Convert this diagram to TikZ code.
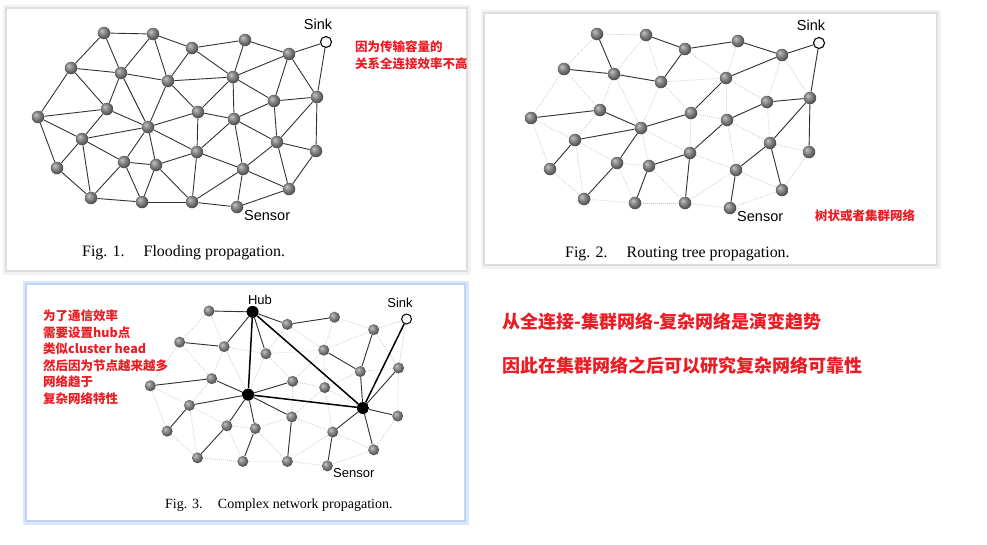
\documentclass[tikz,border=0pt]{standalone}
\usepackage{fontspec}
\setmainfont{Liberation Serif}
\newfontfamily\labelfont{Liberation Sans}
\newfontfamily\cjkfont{Noto Sans CJK SC}
\usepackage{tikz}
\usetikzlibrary{positioning,calc,backgrounds}
\definecolor{noteRed}{RGB}{236,28,36}
\definecolor{panelBlue}{RGB}{190,212,242}
\pgfdeclareradialshading{sensorball}{\pgfpoint{-10bp}{10bp}}{color(0bp)=(black!22); color(9bp)=(black!40); color(18bp)=(black!55); color(25bp)=(black!66); color(50bp)=(black!95)}

% sensor field, pixel positions as in Fig. 1
\newcommand{\sensorPos}{1/104/33, 2/153/34, 3/192/48, 4/245/40, 5/289/54, 6/71/68, 7/121/73, 8/168/81, 9/233/77, 10/274/101, 11/317/97, 12/38/117, 13/107/109, 14/148/127, 15/198/112, 16/234/119, 17/82/139, 18/277/142, 19/316/151, 20/57/168, 21/124/162, 22/156/165, 23/197/152, 24/243/169, 25/289/189, 26/91/198, 27/142/202, 28/192/202, 29/237/207}
% radio links (flooding mesh)
\newcommand{\meshLinks}{1/2, 1/6, 1/7, 2/7, 2/8, 2/3, 3/8, 3/4, 3/9, 4/9, 4/5, 5/sink, 5/9, 5/10, 5/11, sink/11, 6/7, 6/12, 6/13, 7/8, 7/13, 7/14, 8/9, 8/14, 8/15, 9/15, 9/16, 9/10, 10/11, 10/16, 10/18, 11/18, 11/19, 12/13, 12/17, 12/20, 13/17, 13/14, 14/17, 14/15, 14/21, 14/22, 14/23, 15/16, 15/23, 16/18, 16/23, 16/24, 17/20, 17/21, 17/26, 18/19, 18/24, 18/25, 19/25, 20/26, 21/22, 21/26, 21/27, 22/23, 22/27, 22/28, 23/28, 23/24, 24/28, 24/29, 24/25, 25/29, 26/27, 27/28, 28/29}
% routing tree
\newcommand{\treeLinks}{1/7, 2/3, 3/4, 4/5, 5/sink, 3/8, 6/7, 7/8, 9/5, 9/15, 15/14, 12/13, 13/14, 17/14, 17/20, 14/21, 21/26, 22/23, 22/27, 23/16, 23/28, 16/10, 10/11, 11/sink, 11/19, 11/18, 18/24, 18/25, 24/29}
% complex network
\newcommand{\hubLinks}{1/2, 2/3, 3/4, 2/7, 6/7, 2/8, 9/10, 5/10, 10/18, 11/18, 19/18, 25/18, 24/18, 24/29, 12/13, 13/14, 14/15, 14/17, 14/23, 14/21, 14/22, 17/20, 21/26, 22/27, 23/28}
\newcommand{\trunkLinks}{2/14, 2/18, 14/18, 18/sink}

\begin{document}
\begin{tikzpicture}[x=1pt, y=-1pt,
    sensor/.style={circle, inner sep=0pt, minimum size=12.5pt, shading=sensorball},
    sinknode/.style={circle, draw, line width=1.1pt, fill=white, inner sep=0pt, minimum size=11pt},
    hubnode/.style={top color=black, bottom color=black, minimum size=12pt},
    link/.style={line width=0.9pt, black!80},
    faint/.style={line width=0.6pt, gray!50, dash pattern=on 0.8pt off 1.2pt},
    trunk/.style={line width=1.5pt, black},
    tag/.style={font=\labelfont\fontsize{14.5}{16}\selectfont, inner sep=0pt},
    caption/.style={font=\fontsize{15.9}{18}\selectfont, inner sep=0pt, anchor=west},
    note/.style={font=\cjkfont\bfseries\fontsize{12.5}{16.6}\selectfont, text=noteRed, inner sep=0pt, align=left},
    bignote/.style={font=\cjkfont\bfseries\fontsize{18}{22}\selectfont, text=noteRed, inner sep=0pt, anchor=west},
    halo/.style={draw=black!5, line width=7pt},
    panel/.style={fill=white, draw=black!13, line width=1.5pt},
    glow/.style={draw=panelBlue!55, line width=7pt},
    selpanel/.style={fill=white, draw=panelBlue, line width=2pt},
]
\useasboundingbox (0,0) rectangle (987,544);

% panels
\begin{pgfonlayer}{background}
  \fill[white] (0,0) rectangle (987,544);
  \draw[halo] (6,8) rectangle (467,271);
  \draw[panel] (6,8) rectangle (467,271);
  \draw[halo] (484,13) rectangle (937,265);
  \draw[panel] (484,13) rectangle (937,265);
  \draw[glow] (26,284) rectangle (465,521);
  \draw[selpanel] (26,284) rectangle (465,521);
\end{pgfonlayer}

% Fig. 1: flooding
\begin{scope}
  \foreach \i/\x/\y in \sensorPos
    \node[sensor] (fl\i) at (\x,\y) {};
  \node[sinknode] (flsink) at (326,42) {};
  \begin{pgfonlayer}{background}
    \foreach \s/\t in \meshLinks
      \draw[link] (fl\s) -- (fl\t);
  \end{pgfonlayer}
\end{scope}
\node[tag] (flsinktag) at (318,24) {Sink};
\node[tag, anchor=west] (flsensortag) at (244,216) {Sensor};
\node[caption] (flcap) at (82,252.5) {Fig. 1.\hspace{1.2em}Flooding propagation.};
\node[note, anchor=north west] (flnote) at (355,40.5) {因为传输容量的\\关系全连接效率不高};

% Fig. 2: routing tree
\begin{scope}[shift={(493,1)}]
  \foreach \i/\x/\y in \sensorPos
    \node[sensor] (rt\i) at (\x,\y) {};
  \node[sinknode] (rtsink) at (326,42) {};
  \begin{pgfonlayer}{background}
    \foreach \s/\t in \meshLinks
      \draw[faint] (rt\s) -- (rt\t);
    \foreach \s/\t in \treeLinks
      \draw[link] (rt\s) -- (rt\t);
  \end{pgfonlayer}
\end{scope}
\node[tag] (rtsinktag) at (811,25) {Sink};
\node[tag, anchor=west] (rtsensortag) at (737,217) {Sensor};
\node[caption] (rtcap) at (565,253.5) {Fig. 2.\hspace{1.2em}Routing tree propagation.};
\node[note, anchor=west] (rtnote) at (815,216) {树状或者集群网络};

% Fig. 3: complex network
\begin{scope}[shift={(209,311)}, scale=0.89, shift={(-104,-33)},
    sensor/.append style={minimum size=11pt},
    sinknode/.append style={minimum size=10pt, line width=1pt},
    hub2/.style=hubnode, hub14/.style=hubnode, hub18/.style=hubnode]
  \foreach \i/\x/\y in \sensorPos
    \node[sensor, hub\i/.try] (cx\i) at (\x,\y) {};
  \node[sinknode] (cxsink) at (326,42) {};
  \begin{pgfonlayer}{background}
    \foreach \s/\t in \meshLinks
      \draw[faint] (cx\s) -- (cx\t);
    \foreach \s/\t in \hubLinks
      \draw[link] (cx\s) -- (cx\t);
    \foreach \s/\t in \trunkLinks
      \draw[trunk] (cx\s) -- (cx\t);
  \end{pgfonlayer}
\end{scope}
\node[tag, font=\labelfont\fontsize{13}{15}\selectfont] (cxhubtag) at (260,300) {Hub};
\node[tag, font=\labelfont\fontsize{13}{15}\selectfont] (cxsinktag) at (400,303) {Sink};
\node[tag, font=\labelfont\fontsize{13}{15}\selectfont, anchor=west] (cxsensortag) at (333,473) {Sensor};
\node[caption, font=\fontsize{14}{16}\selectfont] (cxcap) at (165,505) {Fig. 3.\hspace{1.1em}Complex network propagation.};
\node[note, anchor=north west] (cxnote) at (43,309.5) {为了通信效率\\需要设置hub点\\类似cluster head\\然后因为节点越来越多\\网络趋于\\复杂网络特性};

% conclusions
\node[bignote] (trend) at (502,322) {从全连接-集群网络-复杂网络是演变趋势};
\node[bignote] (reliab) at (502,366) {因此在集群网络之后可以研究复杂网络可靠性};
\end{tikzpicture}
\end{document}
